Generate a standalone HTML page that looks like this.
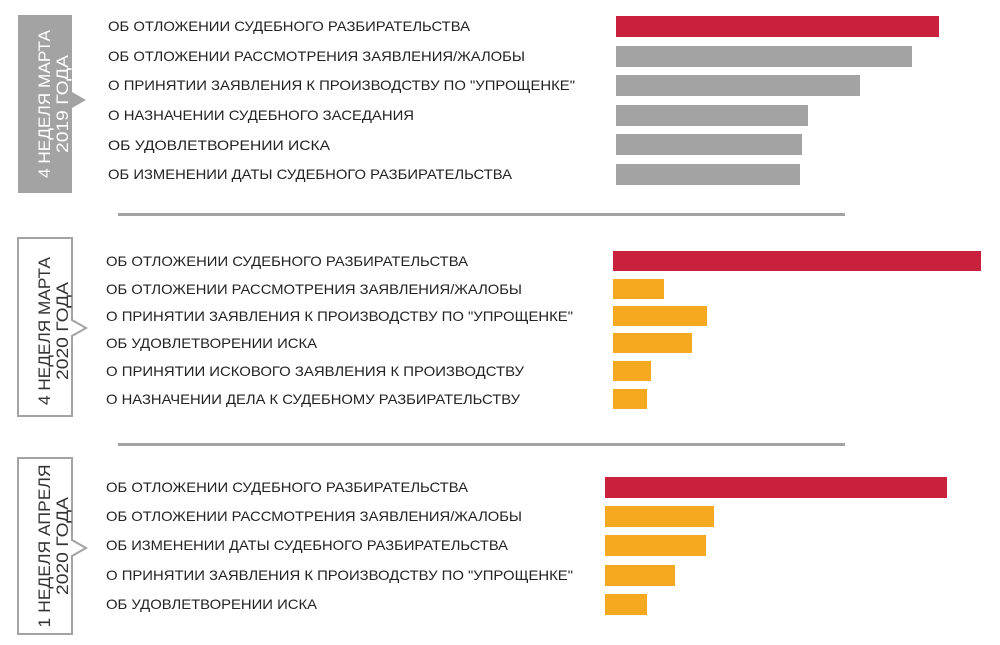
<!DOCTYPE html>
<html><head><meta charset="utf-8"><style>body{margin:0;background:#fff}svg{display:block}</style></head>
<body>
<svg width="1000" height="645" xmlns="http://www.w3.org/2000/svg" font-family="Liberation Sans, sans-serif" font-size="14" fill="#222">
<!-- label boxes -->
<path d="M18 15H72V92L86 100L72 108V193H18Z" fill="#a3a3a3"/>
<text transform="translate(45 104) rotate(-90)" text-anchor="middle" fill="#fff" font-size="17"><tspan x="0" y="5" textLength="148" lengthAdjust="spacingAndGlyphs">4 НЕДЕЛЯ МАРТА</tspan><tspan x="0" y="23" textLength="98" lengthAdjust="spacingAndGlyphs">2019 ГОДА</tspan></text>
<path d="M18 238H72V320L86 328L72 336V416H18Z" fill="none" stroke="#a3a3a3" stroke-width="2"/>
<text transform="translate(45 331) rotate(-90)" text-anchor="middle" fill="#333" font-size="17"><tspan x="0" y="5" textLength="148" lengthAdjust="spacingAndGlyphs">4 НЕДЕЛЯ МАРТА</tspan><tspan x="0" y="23" textLength="98" lengthAdjust="spacingAndGlyphs">2020 ГОДА</tspan></text>
<path d="M18 458H72V540L86 548L72 556V634H18Z" fill="none" stroke="#a3a3a3" stroke-width="2"/>
<text transform="translate(45 546) rotate(-90)" text-anchor="middle" fill="#333" font-size="17"><tspan x="0" y="5" textLength="163" lengthAdjust="spacingAndGlyphs">1 НЕДЕЛЯ АПРЕЛЯ</tspan><tspan x="0" y="23" textLength="98" lengthAdjust="spacingAndGlyphs">2020 ГОДА</tspan></text>
<!-- separators -->
<rect x="118" y="213" width="727" height="3" fill="#a3a3a3"/>
<rect x="118" y="443" width="727" height="3" fill="#a3a3a3"/>
<!-- section 1 -->
<text x="108" y="31" textLength="362" lengthAdjust="spacingAndGlyphs">ОБ ОТЛОЖЕНИИ СУДЕБНОГО РАЗБИРАТЕЛЬСТВА</text>
<text x="108" y="61" textLength="417" lengthAdjust="spacingAndGlyphs">ОБ ОТЛОЖЕНИИ РАССМОТРЕНИЯ ЗАЯВЛЕНИЯ/ЖАЛОБЫ</text>
<text x="108" y="90" textLength="467" lengthAdjust="spacingAndGlyphs">О ПРИНЯТИИ ЗАЯВЛЕНИЯ К ПРОИЗВОДСТВУ ПО "УПРОЩЕНКЕ"</text>
<text x="108" y="120" textLength="306" lengthAdjust="spacingAndGlyphs">О НАЗНАЧЕНИИ СУДЕБНОГО ЗАСЕДАНИЯ</text>
<text x="108" y="150" textLength="222" lengthAdjust="spacingAndGlyphs">ОБ УДОВЛЕТВОРЕНИИ ИСКА</text>
<text x="108" y="179" textLength="404" lengthAdjust="spacingAndGlyphs">ОБ ИЗМЕНЕНИИ ДАТЫ СУДЕБНОГО РАЗБИРАТЕЛЬСТВА</text>
<rect x="616" y="16" width="323" height="21" fill="#c9203d"/>
<rect x="616" y="46" width="296" height="21" fill="#a3a3a3"/>
<rect x="616" y="75" width="244" height="21" fill="#a3a3a3"/>
<rect x="616" y="105" width="192" height="21" fill="#a3a3a3"/>
<rect x="616" y="134" width="186" height="21" fill="#a3a3a3"/>
<rect x="616" y="164" width="184" height="21" fill="#a3a3a3"/>
<!-- section 2 -->
<text x="106" y="266" textLength="362" lengthAdjust="spacingAndGlyphs">ОБ ОТЛОЖЕНИИ СУДЕБНОГО РАЗБИРАТЕЛЬСТВА</text>
<text x="106" y="294" textLength="416" lengthAdjust="spacingAndGlyphs">ОБ ОТЛОЖЕНИИ РАССМОТРЕНИЯ ЗАЯВЛЕНИЯ/ЖАЛОБЫ</text>
<text x="106" y="321" textLength="467" lengthAdjust="spacingAndGlyphs">О ПРИНЯТИИ ЗАЯВЛЕНИЯ К ПРОИЗВОДСТВУ ПО "УПРОЩЕНКЕ"</text>
<text x="106" y="348" textLength="211" lengthAdjust="spacingAndGlyphs">ОБ УДОВЛЕТВОРЕНИИ ИСКА</text>
<text x="106" y="376" textLength="418" lengthAdjust="spacingAndGlyphs">О ПРИНЯТИИ ИСКОВОГО ЗАЯВЛЕНИЯ К ПРОИЗВОДСТВУ</text>
<text x="106" y="404" textLength="414" lengthAdjust="spacingAndGlyphs">О НАЗНАЧЕНИИ ДЕЛА К СУДЕБНОМУ РАЗБИРАТЕЛЬСТВУ</text>
<rect x="613" y="251" width="368" height="20" fill="#c9203d"/>
<rect x="613" y="279" width="51" height="20" fill="#f6a81f"/>
<rect x="613" y="306" width="94" height="20" fill="#f6a81f"/>
<rect x="613" y="333" width="79" height="20" fill="#f6a81f"/>
<rect x="613" y="361" width="38" height="20" fill="#f6a81f"/>
<rect x="613" y="389" width="34" height="20" fill="#f6a81f"/>
<!-- section 3 -->
<text x="106" y="492" textLength="362" lengthAdjust="spacingAndGlyphs">ОБ ОТЛОЖЕНИИ СУДЕБНОГО РАЗБИРАТЕЛЬСТВА</text>
<text x="106" y="521" textLength="416" lengthAdjust="spacingAndGlyphs">ОБ ОТЛОЖЕНИИ РАССМОТРЕНИЯ ЗАЯВЛЕНИЯ/ЖАЛОБЫ</text>
<text x="106" y="550" textLength="402" lengthAdjust="spacingAndGlyphs">ОБ ИЗМЕНЕНИИ ДАТЫ СУДЕБНОГО РАЗБИРАТЕЛЬСТВА</text>
<text x="106" y="580" textLength="467" lengthAdjust="spacingAndGlyphs">О ПРИНЯТИИ ЗАЯВЛЕНИЯ К ПРОИЗВОДСТВУ ПО "УПРОЩЕНКЕ"</text>
<text x="106" y="609" textLength="211" lengthAdjust="spacingAndGlyphs">ОБ УДОВЛЕТВОРЕНИИ ИСКА</text>
<rect x="605" y="477" width="342" height="21" fill="#c9203d"/>
<rect x="605" y="506" width="109" height="21" fill="#f6a81f"/>
<rect x="605" y="535" width="101" height="21" fill="#f6a81f"/>
<rect x="605" y="565" width="70" height="21" fill="#f6a81f"/>
<rect x="605" y="594" width="42" height="21" fill="#f6a81f"/>
</svg>
</body></html>
